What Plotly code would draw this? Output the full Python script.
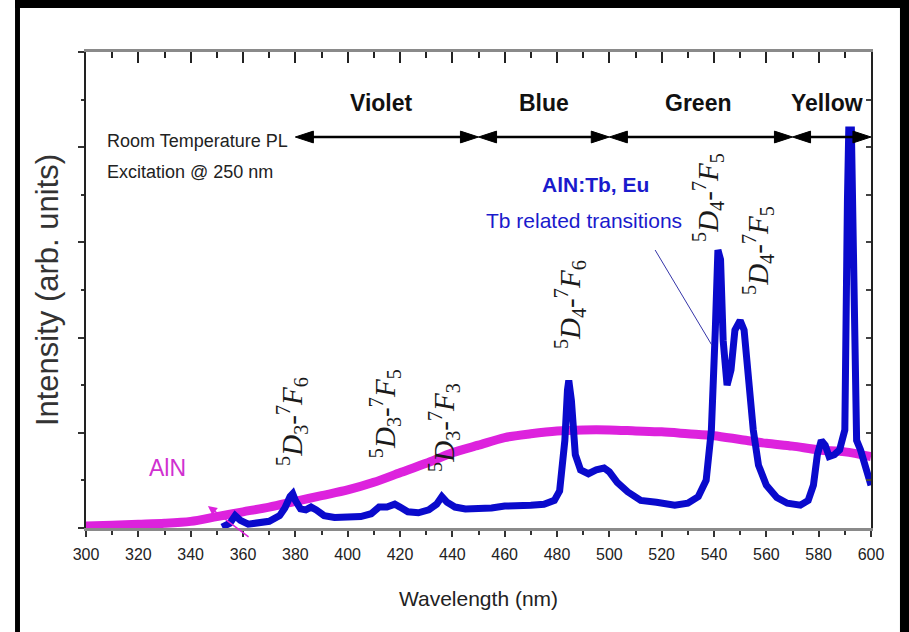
import plotly.graph_objects as go

# ---------------- data ----------------
wl_aln = [300, 310, 320, 330, 340, 350, 360, 370, 380, 390, 400, 410, 420, 430, 440,
          450, 460, 470, 480, 490, 500, 510, 520, 530, 540, 550, 560, 570, 580, 590, 600]
int_aln = [0.02, 0.03, 0.04, 0.05, 0.07, 0.12, 0.17, 0.22, 0.28, 0.34, 0.40, 0.48, 0.58, 0.68, 0.79,
           0.87, 0.95, 0.99, 1.02, 1.03, 1.03, 1.02, 1.01, 0.99, 0.97, 0.93, 0.89, 0.86, 0.82, 0.80, 0.75]

wl_tb = [352, 355, 357, 359, 362, 366, 370, 374, 376, 378, 379, 380, 382, 384, 386, 388, 391, 395,
         400, 405, 409, 412, 415, 418, 420, 423, 427, 431, 434, 436, 438, 441, 445, 450, 455, 460,
         465, 470, 475, 479, 481, 483, 484, 484.5, 485.5, 487, 489, 492, 495, 498, 500, 503, 507,
         512, 518, 525, 530, 534, 537, 539, 540.5, 541.5, 542.5, 543.5, 545, 546.5, 548, 550,
         551.5, 553, 555, 557, 560, 564, 568, 573, 576, 578, 579.5, 581, 582.5, 584, 586, 588,
         590, 591, 591.5, 592.5, 593.5, 594.5, 596, 598, 600]
int_tb = [0.01, 0.05, 0.13, 0.08, 0.04, 0.05, 0.07, 0.13, 0.21, 0.33, 0.36, 0.29, 0.20, 0.19, 0.22, 0.19, 0.13, 0.11,
          0.11, 0.12, 0.15, 0.22, 0.22, 0.25, 0.22, 0.17, 0.16, 0.19, 0.25, 0.33, 0.27, 0.22, 0.20, 0.20, 0.21, 0.23,
          0.23, 0.24, 0.25, 0.29, 0.39, 0.92, 1.45, 1.55, 1.34, 0.77, 0.61, 0.57, 0.61, 0.63, 0.59, 0.48, 0.38,
          0.29, 0.27, 0.24, 0.26, 0.33, 0.50, 1.03, 2.08, 2.92, 2.82, 1.97, 1.50, 1.66, 2.08, 2.18,
          2.08, 1.66, 1.03, 0.66, 0.45, 0.32, 0.26, 0.24, 0.29, 0.45, 0.77, 0.92, 0.87, 0.75, 0.77, 0.82,
          1.03, 3.45, 4.18, 4.18, 2.39, 0.92, 0.82, 0.61, 0.45]

x_ticks = [300, 320, 340, 360, 380, 400, 420, 440, 460, 480, 500, 520, 540, 560, 580, 600]

region_edges = [380, 450, 500, 570, 600]
region_names = ["Violet", "Blue", "Green", "Yellow"]
region_label_x = [413, 475, 534, 583]
region_label_y = 4.46
arrow_y = 4.107

trans_text = [
    "<sup>5</sup><i>D</i><sub>3</sub>-<sup>7</sup><i>F</i><sub>6</sub>",
    "<sup>5</sup><i>D</i><sub>3</sub>-<sup>7</sup><i>F</i><sub>5</sub>",
    "<sup>5</sup><i>D</i><sub>3</sub>-<sup>7</sup><i>F</i><sub>3</sub>",
    "<sup>5</sup><i>D</i><sub>4</sub>-<sup>7</sup><i>F</i><sub>6</sub>",
    "<sup>5</sup><i>D</i><sub>4</sub>-<sup>7</sup><i>F</i><sub>5</sub>",
    "<sup>5</sup><i>D</i><sub>4</sub>-<sup>7</sup><i>F</i><sub>5</sub>",
]
trans_x = [378.7, 414.3, 436.8, 485.0, 537.7, 556.8]
trans_y = [1.124, 1.197, 1.061, 2.342, 3.477, 2.920]

MAGENTA = "#dd22dd"
BLUE = "#0a0acc"
SANS = "Liberation Sans, Arial, sans-serif"

fig = go.Figure()
fig.add_trace(go.Scatter(x=wl_aln, y=int_aln, mode="lines", line=dict(color=MAGENTA, width=9, shape="spline", smoothing=0.8),
                         showlegend=False, hoverinfo="skip"))
fig.add_trace(go.Scatter(x=wl_tb, y=int_tb, mode="lines", line=dict(color=BLUE, width=7),
                         showlegend=False, hoverinfo="skip"))
# dummy trace for mirror axes (inward ticks on top/right)
fig.add_trace(go.Scatter(x=[None], y=[None], xaxis="x2", yaxis="y2", showlegend=False, hoverinfo="skip"))

shapes = []
# black picture frame
shapes.append(dict(type="rect", xref="paper", yref="paper", x0=-0.0904, x1=-0.0841, y0=-0.3, y1=1.11,
                   fillcolor="black", line=dict(width=0), layer="above"))
shapes.append(dict(type="rect", xref="paper", yref="paper", x0=-0.0904, x1=1.05, y0=1.0924, y1=1.11,
                   fillcolor="black", line=dict(width=0), layer="above"))
shapes.append(dict(type="rect", xref="paper", yref="paper", x0=1.0369, x1=1.05, y0=-0.3, y1=1.11,
                   fillcolor="black", line=dict(width=0), layer="above"))

# double-headed region arrows
hl = 6.9    # head length (nm)
hh = 0.062  # head half height
for a, b in zip(region_edges[:-1], region_edges[1:]):
    shapes.append(dict(type="line", xref="x", yref="y", x0=a + hl * 0.5, x1=b - hl * 0.5, y0=arrow_y, y1=arrow_y,
                       line=dict(color="black", width=2.5)))
    shapes.append(dict(type="path", xref="x", yref="y",
                       path=f"M {a},{arrow_y} L {a + hl},{arrow_y + hh} L {a + hl},{arrow_y - hh} Z",
                       fillcolor="black", line=dict(color="black", width=1)))
    shapes.append(dict(type="path", xref="x", yref="y",
                       path=f"M {b},{arrow_y} L {b - hl},{arrow_y + hh} L {b - hl},{arrow_y - hh} Z",
                       fillcolor="black", line=dict(color="black", width=1)))

# pointer line from "Tb related transitions"
shapes.append(dict(type="line", xref="x", yref="y", x0=517.5, y0=2.92, x1=539.2, y1=1.92,
                   line=dict(color="#3535a8", width=1)))

annotations = []
for name, lx in zip(region_names, region_label_x):
    annotations.append(dict(x=lx, y=region_label_y, xref="x", yref="y", text=f"<b>{name}</b>", showarrow=False,
                            font=dict(family=SANS, size=23, color="#111111")))

annotations.append(dict(x=307.3, y=4.065, xref="x", yref="y", text="Room Temperature PL", showarrow=False,
                        xanchor="left", font=dict(family=SANS, size=18, color="#222222")))
annotations.append(dict(x=307.3, y=3.74, xref="x", yref="y", text="Excitation @ 250 nm", showarrow=False,
                        xanchor="left", font=dict(family=SANS, size=18, color="#222222")))
annotations.append(dict(x=494.9, y=3.603, xref="x", yref="y", text="<b>AlN:Tb, Eu</b>", showarrow=False,
                        font=dict(family=SANS, size=21, color="#1a1acc")))
annotations.append(dict(x=490.3, y=3.225, xref="x", yref="y", text="Tb related transitions", showarrow=False,
                        font=dict(family=SANS, size=21, color="#1a1acc")))
annotations.append(dict(x=331.0, y=0.63, xref="x", yref="y", text="AlN", showarrow=False,
                        font=dict(family=SANS, size=23, color="#d030d0")))
annotations.append(dict(x=346.6, y=0.23, xref="x", yref="y", ax=362.7, ay=-0.105, axref="x", ayref="y",
                        text="", showarrow=True, arrowhead=2, arrowsize=1.2, arrowwidth=1.5, arrowcolor=MAGENTA))

for t, tx, ty in zip(trans_text, trans_x, trans_y):
    annotations.append(dict(x=tx, y=ty, xref="x", yref="y", text=t, showarrow=False, textangle=-90,
                            font=dict(family="Liberation Serif, Times New Roman, serif", size=29, color="#1a1a1a")))

fig.update_layout(
    width=909, height=632,
    margin=dict(l=86, r=38, t=52, b=104, autoexpand=False),
    paper_bgcolor="white", plot_bgcolor="white",
    font=dict(family=SANS, color="#222222"),
    shapes=shapes, annotations=annotations,
    xaxis=dict(range=[300, 600], tickvals=x_ticks, ticks="outside", ticklen=6, tickwidth=1.5, tickcolor="#333333",
               minor=dict(dtick=10, tick0=300, ticks="outside", ticklen=4, tickwidth=1.5, tickcolor="#333333"),
               showline=True, linecolor="#8a8a8a", linewidth=3, mirror=True, showgrid=False, zeroline=False,
               tickfont=dict(family=SANS, size=16, color="#222222"), ticklabelstandoff=4,
               title=dict(text="Wavelength (nm)", font=dict(family=SANS, size=21, color="#222222"), standoff=30)),
    yaxis=dict(range=[0, 5], dtick=1, ticks="outside", ticklen=6, tickwidth=1.5, tickcolor="#333333",
               minor=dict(dtick=0.5, ticks="outside", ticklen=3, tickwidth=1.5, tickcolor="#333333"),
               showticklabels=False, showline=True, linecolor="#222222", linewidth=1.5, mirror=True,
               showgrid=False, zeroline=False,
               title=dict(text="Intensity (arb. units)", font=dict(family=SANS, size=31, color="#333333"), standoff=10)),
    xaxis2=dict(overlaying="x", side="top", anchor="y", range=[300, 600], tickvals=x_ticks, ticks="inside",
                ticklen=11, tickwidth=1.5, tickcolor="#222222",
                minor=dict(dtick=10, tick0=300, ticks="inside", ticklen=6, tickwidth=1.5, tickcolor="#222222"),
                showticklabels=False, showline=False, showgrid=False, zeroline=False),
    yaxis2=dict(overlaying="y", side="right", anchor="x", range=[0, 5], dtick=1, ticks="inside",
                ticklen=5, tickwidth=1.5, tickcolor="#444444",
                minor=dict(dtick=0.5, ticks="inside", ticklen=5, tickwidth=1.5, tickcolor="#444444"),
                showticklabels=False, showline=False, showgrid=False, zeroline=False),
)

fig.write_html("out.html")
